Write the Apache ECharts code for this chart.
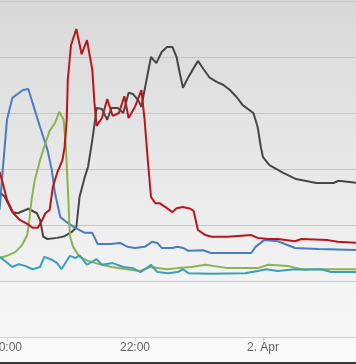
<!DOCTYPE html>
<html>
<head>
<meta charset="utf-8">
<script src="https://cdn.jsdelivr.net/npm/echarts@6/dist/echarts.min.js"></script>
<style>
html,body{margin:0;padding:0;background:#fff;}
#chart{width:356px;height:364px;}
</style>
</head>
<body>
<div id="chart"></div>
<script>
// Tick labels (x positions in clock time)
var tickTimes = ["20:00", "22:00", "00:00"];
var tickLabels = ["20:00", "22:00", "2. Apr"];
var viewStart = "19:53";
var viewEnd = "01:27";

// Series data: [clock time, value]
var grayData = [["19:53",25.9],["19:58",25.0],["20:05",22.3],["20:10",22.1],["20:20",22.9],["20:28",22.1],["20:31",20.9],["20:34",17.9],["20:38",17.5],["20:47",17.7],["20:54",18.0],["21:01",18.8],["21:05",19.6],["21:08",25.0],["21:13",28.6],["21:16",30.4],["21:20",35.2],["21:23",39.3],["21:24",40.9],["21:29",40.7],["21:34",38.8],["21:38",40.9],["21:44",40.9],["21:49",40.0],["21:54",43.6],["21:58",43.4],["22:03",42.3],["22:06",41.1],["22:09",44.1],["22:12",47.1],["22:15",50.0],["22:20",48.9],["22:25",50.9],["22:30",51.8],["22:35",51.8],["22:39",50.0],["22:42",47.1],["22:45",44.5],["22:50",46.4],["22:54",47.7],["22:59",49.3],["23:04",47.9],["23:10",46.3],["23:17",45.5],["23:23",45.0],["23:29",44.1],["23:35",42.9],["23:41",41.4],["23:51",40.0],["23:55",37.5],["23:58",33.9],["00:00",32.1],["00:06",30.7],["00:19",29.3],["00:31",28.2],["00:50",27.5],["01:06",27.5],["01:11",27.9],["01:30",27.5]];
var blueData = [["19:53",22.7],["19:56",29.8],["20:00",38.8],["20:05",42.7],["20:15",44.1],["20:20",44.3],["20:24",41.8],["20:31",37.5],["20:38",33.4],["20:42",29.8],["20:45",25.7],["20:50",21.4],["20:56",20.5],["21:04",19.5],["21:13",18.6],["21:20",18.6],["21:25",16.6],["21:37",16.6],["21:46",16.8],["21:53",16.1],["22:00",15.9],["22:09",16.1],["22:16",17.0],["22:21",16.8],["22:25",15.9],["22:35",15.9],["22:40",16.1],["22:45",15.9],["22:50",15.4],["23:04",15.5],["23:11",15.0],["23:49",15.0],["23:53",16.1],["00:01",17.3],["00:14",17.1],["00:30",15.9],["00:52",15.7],["01:30",15.5]];
var greenData = [["19:53",14.1],["20:00",14.5],["20:08",15.2],["20:14",16.4],["20:19",18.2],["20:21",20.9],["20:23",24.5],["20:26",28.0],["20:31",31.6],["20:36",34.6],["20:40",36.8],["20:45",38.2],["20:49",40.2],["20:53",38.9],["20:55",34.6],["20:57",26.8],["20:59",18.0],["21:02",16.1],["21:08",14.3],["21:16",13.6],["21:27",13.0],["21:38",12.5],["21:52",12.1],["22:05",11.8],["22:14",12.5],["22:30",12.1],["22:40",12.3],["22:53",12.5],["23:06",12.9],["23:27",12.3],["23:55",12.3],["00:05",12.9],["00:23",12.7],["00:36",12.1],["01:30",12.1]];
var cyanData = [["19:53",14.3],["19:58",13.6],["20:05",12.5],["20:11",13.0],["20:17",12.7],["20:24",12.1],["20:31",12.5],["20:35",14.3],["20:42",13.8],["20:47",13.2],["20:51",12.1],["20:54",13.0],["20:59",14.5],["21:04",14.1],["21:08",14.6],["21:15",12.9],["21:24",13.9],["21:29",12.9],["21:39",13.2],["21:49",12.5],["21:58",12.3],["22:05",11.6],["22:11",12.3],["22:15",12.9],["22:21",11.6],["22:31",11.4],["22:40",11.6],["22:45",12.1],["22:50",11.4],["23:11",11.3],["23:43",11.4],["23:55",11.8],["00:03",12.1],["00:14",11.8],["00:30",12.1],["00:39",12.0],["00:54",12.1],["01:04",11.6],["01:30",11.6]];
var redData = [["19:53",29.5],["19:56",27.5],["20:00",24.5],["20:06",22.1],["20:12",20.9],["20:19",20.2],["20:24",19.5],["20:29",19.5],["20:33",20.9],["20:36",22.1],["20:40",22.7],["20:43",26.8],["20:47",29.3],["20:52",31.6],["20:54",33.9],["20:56",38.8],["20:57",45.9],["21:00",52.1],["21:05",55.0],["21:10",50.5],["21:15",53.0],["21:20",47.7],["21:22",41.8],["21:24",37.7],["21:29",39.1],["21:34",42.5],["21:39",39.5],["21:45",40.0],["21:50",43.0],["21:54",39.1],["22:00",41.1],["22:06",44.1],["22:09",38.8],["22:12",31.6],["22:15",25.0],["22:19",23.9],["22:23",23.9],["22:30",23.0],["22:35",22.3],["22:39",23.0],["22:45",23.2],["22:52",22.9],["22:55",22.5],["22:59",19.1],["23:06",18.2],["23:12",17.9],["23:27",17.9],["23:49",18.2],["23:55",17.7],["00:05",17.5],["00:14",17.5],["00:30",17.1],["00:36",17.5],["01:01",17.3],["01:10",17.0],["01:30",16.8]];

function toMin(t){
  var p = t.split(":"), h = +p[0], m = +p[1];
  if (h < 12) h += 24;
  return h*60 + m - 20*60;
}
function conv(arr){ return arr.map(function(d){ return [toMin(d[0]), d[1]]; }); }

var tickVals = tickTimes.map(toMin);
var chart = echarts.init(document.getElementById('chart'), null, {renderer:'canvas'});

function line(name, data, color){
  return {name:name, type:'line', data:conv(data), symbol:'none', smooth:false,
    lineStyle:{color:color, width:2}, itemStyle:{color:color}, animation:false, clip:true};
}

chart.setOption({
  animation:false,
  backgroundColor:{type:'linear', x:0, y:0, x2:0, y2:1, colorStops:[
    {offset:0, color:'#d8d8d8'},{offset:0.8, color:'#f4f4f4'},{offset:1, color:'#fafafa'}]},
  grid:{left:0, right:0, top:1, bottom:27, containLabel:false, outerBoundsMode:'none'},
  xAxis:{type:'value', min:toMin(viewStart)+0.44, max:toMin(viewEnd)+0.2,
    splitLine:{show:false},
    axisLine:{show:true, lineStyle:{color:'#c0d0e0', width:1}},
    axisTick:{show:true, customValues:tickVals, length:4, lineStyle:{color:'#c0d0e0'}},
    axisLabel:{show:true, customValues:tickVals, color:'#666666', fontSize:12,
      fontFamily:'Liberation Sans, Arial, sans-serif', margin:5, hideOverlap:false,
      showMinLabel:true, showMaxLabel:true,
      formatter:function(v){ var i = tickVals.indexOf(v); return i>=0 ? tickLabels[i] : ''; }}
  },
  yAxis:{type:'value', min:0, max:60, interval:10,
    axisLine:{show:false}, axisTick:{show:false}, axisLabel:{show:false},
    splitLine:{show:true, lineStyle:{color:'#c6c6c6', width:1}}
  },
  series:[
    line('gray', grayData, '#474747'),
    line('blue', blueData, '#4a7dbf'),
    line('green', greenData, '#8db34e'),
    line('cyan', cyanData, '#3b9fba'),
    line('red', redData, '#bb1419')
  ],
  graphic:[{type:'rect', shape:{x:0, y:362, width:356, height:2}, style:{fill:'#3a3a3a'}, silent:true}]
});
</script>
</body>
</html>
